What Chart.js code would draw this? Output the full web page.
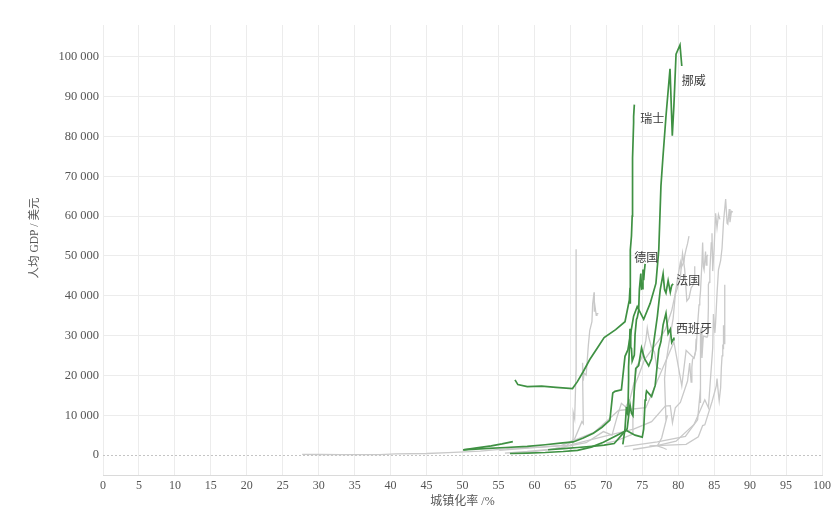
<!DOCTYPE html>
<html><head><meta charset="utf-8">
<script src="https://cdn.jsdelivr.net/npm/chart.js@4.4.1/dist/chart.umd.min.js"></script>
<style>html,body{margin:0;padding:0;background:#fff}canvas{display:block}</style>
</head><body><canvas id="c" width="840" height="519"></canvas>
<script>
// ---- axis ticks / titles ----
const xTickStep = 5;
const yTickValues = [0, 10000, 20000, 30000, 40000, 50000, 60000, 70000, 80000, 90000, 100000];
const xTitle = '城镇化率 /%';
const yTitle = '人均 GDP / 美元';

// ---- highlighted countries (urbanization %, GDP per capita USD) ----
const norwayUrban = [50.1, 53.0, 56.0, 59.0, 61.5, 63.6, 65.4, 66.8, 68.2, 69.4, 70.5, 70.9, 71.2, 72.1, 72.6, 73.0, 73.8, 74.3, 75.2, 76.1, 76.9, 77.3, 77.6, 77.85, 78.3, 78.86, 79.18, 79.4, 79.7, 80.25, 80.5];
const norwayGdp   = [1300, 1600, 1900, 2200, 2600, 3000, 3300, 4300, 5500, 7000, 8800, 15600, 16000, 16400, 24800, 26400, 34900, 37300, 34100, 38100, 43100, 51600, 67600, 74100, 85100, 97000, 80200, 87700, 100700, 103000, 97700];

const swissUrban = [50.1, 52.0, 54.0, 55.5, 57.0, null, 57.3, 57.7, 59.0, 61.0, 63.0, 65.3, 66.0, 66.8, 67.7, 68.8, 69.7, 71.3, 72.6, 73.2, 73.3, 73.3, 73.3, 73.3, 73.4, 73.4, 73.5, 73.6, 73.6, 73.7, 73.8, 73.8, 73.9];
const swissGdp   = [1300, 1800, 2300, 2800, 3400, null, 18900, 17700, 17200, 17300, 17000, 16700, 18500, 21000, 24000, 27000, 29500, 31500, 33500, 38900, 42000, 48200, 39500, 38000, 47300, 51500, 55000, 60000, 69500, 74600, 83500, 85000, 88000];

const germanyUrban = [72.3, 72.6, 72.8, 72.9, 73.0, 73.1, 73.1, 73.2, 73.3, 73.4, 73.5, 73.6, 73.7, 73.9, 74.0, 74.2, 74.3, 74.5, 74.6, 74.8, 74.9, 75.0, 75.1, 75.2, 75.3, 75.4];
const germanyGdp   = [2700, 6600, 12100, 10600, 10200, 18900, 22200, 26300, 31700, 27000, 26800, 23600, 23600, 25100, 30300, 34100, 34500, 36300, 41600, 45600, 41700, 41800, 46600, 43900, 46300, 48000];

const franceUrban = [61.9, 64.0, 66.0, 68.0, 69.7, 71.1, 72.9, 73.3, 73.5, 73.7, 73.9, 74.1, 74.5, 74.9, 75.3, 75.9, 76.3, 76.7, 77.1, 77.5, 77.9, 78.1, 78.3, 78.6, 78.9, 79.1, 79.3];
const franceGdp   = [1340, 1600, 1900, 2200, 2500, 2900, 6600, 12700, 10500, 9900, 16800, 21800, 22500, 26900, 24300, 22400, 24200, 29600, 34800, 41500, 45500, 41600, 40700, 43800, 40900, 42600, 43000];

const spainUrban = [56.6, 59.0, 61.5, 64.0, 66.0, 67.9, 69.6, 71.3, 72.8, 74.0, 75.0, 75.2, 75.4, 75.5, 75.6, 75.9, 76.3, 76.8, 77.3, 77.6, 77.9, 78.3, 78.5, 78.6, 78.9, 79.1, 79.3, 79.4];
const spainGdp   = [400, 500, 650, 900, 1200, 2000, 3200, 4800, 6200, 5000, 4500, 6500, 13800, 15000, 16100, 15500, 14700, 17500, 26500, 28500, 32700, 35600, 32300, 30500, 31600, 28300, 29000, 29500];

// ---- other countries (grey) ----
const koreaUrban = [27.7, 30.2, 33.0, 35.8, 38.5, 40.7, 45.0, 48.0, 52.5, 56.7, 61.0, 64.9, 69.7, 73.8, 76.3, 78.2, 78.9, 79.2, 79.6, 80.3, 81.3, 81.6, 81.7, 81.8, 81.9, 82.0, 82.2, 82.4, 82.5];
const koreaGdp   = [160, 150, 110, 140, 110, 280, 400, 620, 1000, 1700, 2000, 2500, 4700, 6500, 8400, 12300, 12400, 8100, 11900, 13200, 18600, 23100, 20500, 18300, 22100, 24100, 24400, 25900, 29200];

const italyUrban = [59.4, 61.9, 64.3, 65.6, 66.6, 66.8, 66.7, 66.7, 66.8, 66.9, 67.2, 67.5, 67.7, 67.8, 68.0, 68.1, 68.3, 68.3, 68.3, 68.4, 68.6, 68.7, 68.9];
const italyGdp   = [800, 1300, 2100, 4100, 8400, 7900, 20800, 23200, 18700, 20600, 20100, 27500, 31300, 32000, 33500, 37900, 40900, 37200, 36000, 38600, 35100, 35500, 35500];

const austriaUrban = [64.7, 65.0, 65.3, 65.4, 65.4, 65.6, 65.8, 65.8, 65.8, 65.8, 65.8, 65.8, 65.8, 65.8, 65.8, 65.8];
const austriaGdp   = [900, 1300, 2000, 5000, 10700, 9100, 21500, 30300, 26500, 24600, 36800, 46900, 51700, 47700, 51200, 51400];

const greeceUrban = [55.9, 59.0, 62.5, 67.2, 69.6, 70.8, 71.5, 72.1, 72.7, 73.3, 73.9, 74.3, 74.7, 75.0, 75.5, 75.7, 75.9, 76.3, 76.7, 77.0, 77.3, 77.6];
const greeceGdp   = [500, 900, 1500, 3100, 5900, 5000, 9600, 13000, 12100, 14100, 18500, 22600, 23600, 24800, 28800, 31900, 29700, 26900, 25900, 22200, 21800, 21600];

const usUrban = [70.0, 71.2, 72.4, 73.6, 73.7, 73.7, 74.0, 74.5, 75.3, 76.3, 77.3, 78.2, 79.1, 79.5, 79.9, 80.3, 80.4, 80.8, 80.9, 81.1, 81.3, 81.5];
const usGdp   = [3000, 3500, 4300, 5200, 7800, 12600, 17700, 20000, 23900, 26400, 28800, 31500, 36300, 39700, 44100, 48400, 47100, 48500, 50000, 51700, 53100, 55000];

const ukUrban = [78.4, 77.8, 77.1, 77.7, 78.5, 78.3, 78.1, 78.3, 78.7, 79.3, 79.6, 79.9, 80.3, 80.6, 80.9, 81.2, 81.5, 81.8, 82.0, 82.2, 82.3];
const ukGdp   = [1400, 1900, 2300, 4300, 10000, 8700, 19100, 23100, 27900, 34400, 40300, 42000, 44600, 50600, 46700, 38700, 39400, 42000, 42500, 43400, 47400];

const finlandUrban = [55.1, 60.0, 63.7, 68.3, 71.7, 75.5, 79.4, 79.7, 80.5, 81.1, 82.2, 82.5, 82.7, 82.9, 83.0, 83.1, 83.3, 83.4, 83.5, 83.6, 83.8, 83.9, 84.0, 84.1];
const finlandGdp   = [1200, 1900, 2400, 5700, 11200, 11900, 28400, 25400, 17400, 26300, 24300, 26600, 32800, 37700, 39000, 41100, 48300, 53400, 47300, 46500, 51100, 47700, 49900, 50300];

const swedenUrban = [72.5, 77.1, 81.0, 82.7, 83.1, 83.1, 83.1, 83.2, 83.3, 83.5, 84.0, 84.1, 84.2, 84.2, 84.3, 84.4, 84.6, 84.7, 84.8, 85.0, 85.2, 85.4, 85.6, 85.8];
const swedenGdp   = [2100, 3300, 4700, 8900, 16800, 13100, 30600, 32000, 24400, 29900, 29600, 29900, 37300, 42800, 43400, 46300, 53300, 55700, 46200, 52100, 60700, 57100, 60400, 59200];

const denmarkUrban = [73.7, 76.9, 79.7, 82.2, 83.7, 84.2, 84.8, 84.9, 85.1, 85.2, 85.4, 85.6, 85.9, 86.1, 86.3, 86.6, 86.8, 86.9, 87.1, 87.2, 87.4, 87.6];
const denmarkGdp   = [1400, 2300, 3500, 7700, 13900, 11900, 26900, 35400, 30700, 33200, 40500, 46500, 48800, 52000, 58500, 64300, 58200, 58000, 61800, 58500, 61200, 61000];

const nzUrban = [76.0, 81.1, 82.8, 83.4, 83.7, 84.7, 85.3, 85.4, 85.6, 85.7, 85.9, 86.0, 86.1, 86.2, 86.3, 86.3, 86.3, 86.4, 86.4, 86.5, 86.5, 86.5];
const nzGdp   = [2300, 2700, 4600, 7400, 7600, 13400, 17400, 19200, 15200, 13600, 16900, 21900, 24900, 27800, 26600, 32600, 30800, 28000, 33700, 38300, 39800, 42800];

// ---- styles (kept separate from data) ----
const GREEN = '#3f9143';
const GREY = '#c9c9c9';
const FONT = "'Liberation Serif', 'Noto Sans CJK SC', serif";
const labelOffsets = { '挪威': [0, 16], '瑞士': [6, 15], '德国': [-11, -5], '法国': [3, -2], '西班牙': [2, -8] };

function pts(u, g) { return u.map((x, i) => ({ x: x, y: g[i] })); }

const highlighted = [
  ['挪威', norwayUrban, norwayGdp],
  ['瑞士', swissUrban, swissGdp],
  ['德国', germanyUrban, germanyGdp],
  ['法国', franceUrban, franceGdp],
  ['西班牙', spainUrban, spainGdp]
];
const others = [
  ['韩国', koreaUrban, koreaGdp],
  ['意大利', italyUrban, italyGdp],
  ['奥地利', austriaUrban, austriaGdp],
  ['希腊', greeceUrban, greeceGdp],
  ['美国', usUrban, usGdp],
  ['英国', ukUrban, ukGdp],
  ['芬兰', finlandUrban, finlandGdp],
  ['瑞典', swedenUrban, swedenGdp],
  ['丹麦', denmarkUrban, denmarkGdp],
  ['新西兰', nzUrban, nzGdp]
];

const datasets = [];
highlighted.forEach(([name, u, g]) => datasets.push({
  label: name, data: pts(u, g), showLine: true, borderColor: GREEN, borderWidth: 1.7,
  pointRadius: 0, tension: 0, spanGaps: false, order: 1, endLabel: true
}));
others.forEach(([name, u, g]) => datasets.push({
  label: name, data: pts(u, g), showLine: true, borderColor: GREY, borderWidth: 1.3,
  pointRadius: 0, tension: 0, spanGaps: false, order: 2
}));

const endLabels = {
  id: 'endLabels',
  afterDatasetsDraw(chart) {
    const ctx = chart.ctx;
    ctx.save();
    ctx.font = "12px " + FONT;
    ctx.fillStyle = '#3a3a3a';
    ctx.textAlign = 'left';
    ctx.textBaseline = 'middle';
    chart.data.datasets.forEach((ds, i) => {
      if (!ds.endLabel) return;
      const meta = chart.getDatasetMeta(i);
      const last = meta.data[meta.data.length - 1];
      const off = labelOffsets[ds.label];
      ctx.fillText(ds.label, last.x + off[0], last.y + off[1]);
    });
    ctx.restore();
  }
};
const zeroLine = {
  id: 'zeroLine',
  beforeDatasetsDraw(chart) {
    const { ctx, chartArea } = chart;
    const y = Math.round(chart.scales.y.getPixelForValue(0)) + 0.5;
    ctx.save();
    ctx.strokeStyle = '#c4c4c4';
    ctx.lineWidth = 1;
    ctx.setLineDash([2, 2]);
    ctx.beginPath();
    ctx.moveTo(chartArea.left, y);
    ctx.lineTo(chartArea.right, y);
    ctx.stroke();
    ctx.restore();
  }
};
const yAxisTitle = {
  id: 'yAxisTitle',
  afterDraw(chart) {
    const ctx = chart.ctx;
    ctx.save();
    ctx.translate(35, 238);
    ctx.rotate(-Math.PI / 2);
    ctx.font = "11.5px " + FONT;
    ctx.fillStyle = '#555';
    ctx.textAlign = 'center';
    ctx.textBaseline = 'middle';
    ctx.fillText(yTitle, 0, 0);
    ctx.restore();
  }
};

function fmt(v) { return String(v).replace(/\B(?=(\d{3})+(?!\d))/g, ' '); }

new Chart(document.getElementById('c'), {
  type: 'scatter',
  data: { datasets },
  plugins: [zeroLine, endLabels, yAxisTitle],
  options: {
    responsive: false,
    animation: false,
    devicePixelRatio: 1,
    layout: { padding: { left: 28, right: 18, top: 25, bottom: 4 } },
    plugins: { legend: { display: false }, tooltip: { enabled: false } },
    scales: {
      x: {
        type: 'linear', min: 0, max: 100,
        ticks: { stepSize: xTickStep, color: '#555', font: { family: FONT, size: 12 }, padding: 4 },
        grid: { color: '#ececec', drawTicks: false },
        border: { display: true, color: '#dadada' },
        title: { display: true, text: xTitle, color: '#555', font: { family: FONT, size: 12 }, padding: { top: 0, bottom: 6 } },
        afterFit(s) { s.height = 40; }
      },
      y: {
        type: 'linear', min: -5000, max: 108000,
        afterBuildTicks(axis) { axis.ticks = yTickValues.map(v => ({ value: v })); },
        ticks: { color: '#555', font: { family: FONT, size: 12.5 }, padding: 4, callback: v => fmt(v) },
        grid: { color: ctx => (ctx.tick && ctx.tick.value === 0) ? 'rgba(0,0,0,0)' : '#ececec', drawTicks: false },
        border: { display: false },
        title: { display: false },
        afterFit(s) { s.width = 75; }
      }
    }
  }
});
</script>
</body></html>
